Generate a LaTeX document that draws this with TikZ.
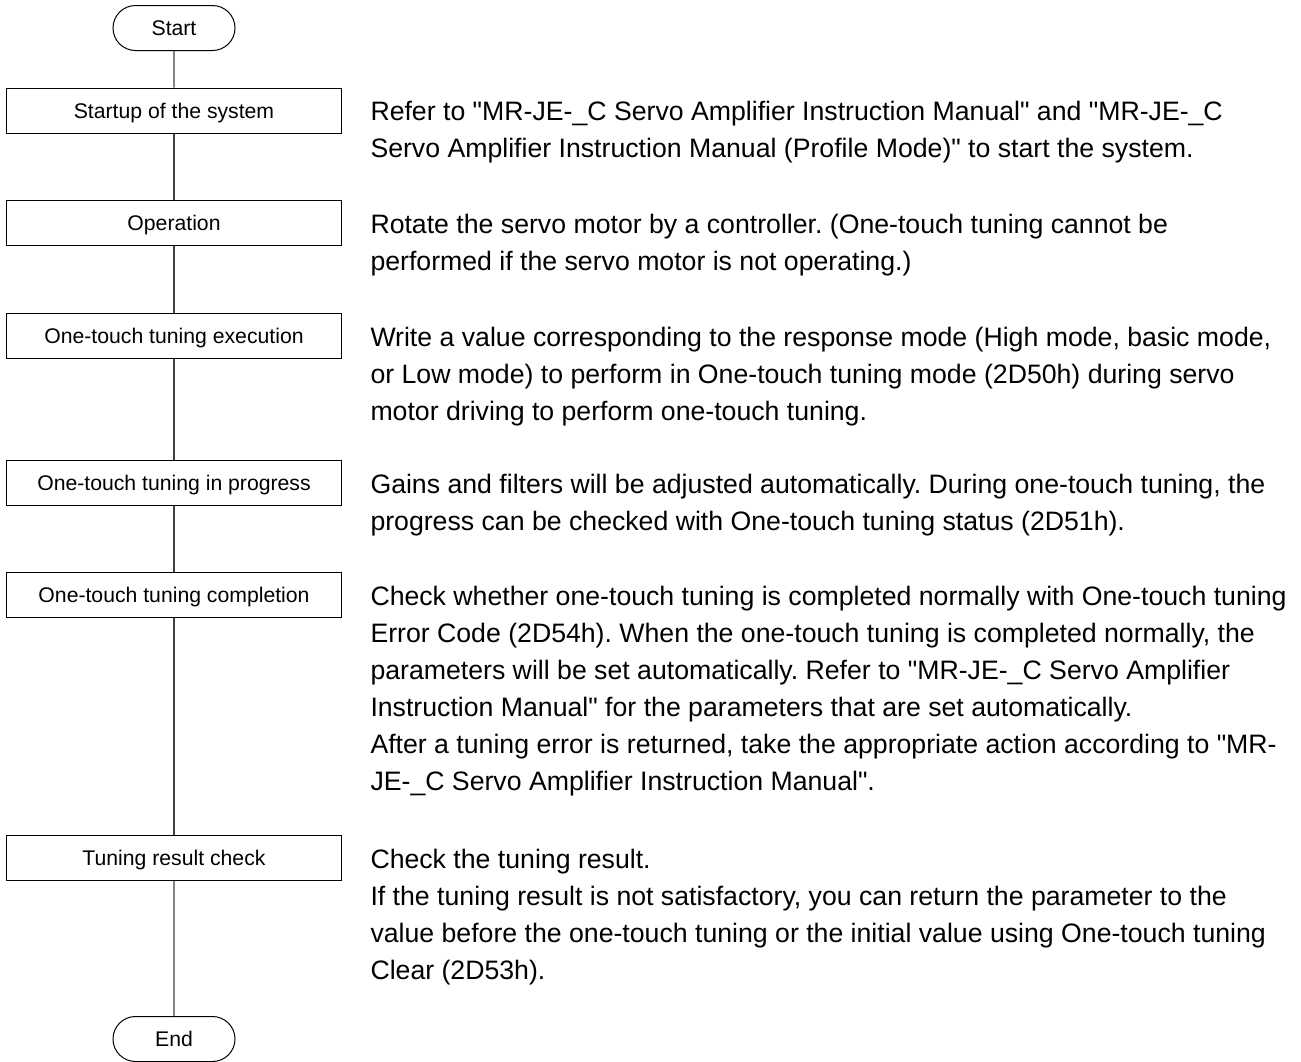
\documentclass[tikz,border=0pt]{standalone}
\usepackage{fontspec}
\setmainfont{Liberation Sans}
\usetikzlibrary{shapes.misc}
\frenchspacing
\newcommand{\q}{\textquotedbl}

\begin{document}
\begin{tikzpicture}[x=0.75pt, y=-0.75pt, line width=0.75pt,
    every node/.style={font=\fontsize{15.9}{19}\selectfont},
    box/.style={draw, minimum width=251.25pt, minimum height=33.75pt, inner sep=0pt,
        text height=11.4pt, text depth=0pt},
    term/.style={draw, rounded rectangle, minimum width=91.5pt, minimum height=33.75pt,
        inner sep=0pt, text height=11.4pt, text depth=0pt},
    note/.style={anchor=north west, align=left, inner sep=0pt,
        font=\fontsize{20}{27.75}\selectfont},
    link/.style={draw=black!75, line width=1pt}]
    \useasboundingbox (0,0) rectangle (1301,1061);

    \node[term] (start) at (174,28) {Start};
    \node[box] (startup) at (174,110.5) {Startup of the system};
    \node[box] (oper) at (174,223) {Operation};
    \node[box] (exec) at (174,336) {One-touch tuning execution};
    \node[box] (prog) at (174,483) {One-touch tuning in progress};
    \node[box] (compl) at (174,595) {One-touch tuning completion};
    \node[box] (check) at (174,858) {Tuning result check};
    \node[term] (end) at (174,1039) {End};

    \node[note] (n1) at (370,94) {\strut Refer to \q MR-JE-\_C Servo Amplifier Instruction Manual\q{} and \q MR-JE-\_C\\
        Servo Amplifier Instruction Manual (Profile Mode)\q{} to start the system.};
    \node[note] (n2) at (370,206.6) {\strut Rotate the servo motor by a controller. (One-touch tuning cannot be\\
        performed if the servo motor is not operating.)};
    \node[note] (n3) at (370,319.6) {\strut Write a value corresponding to the response mode (High mode, basic mode,\\
        or Low mode) to perform in One-touch tuning mode (2D50h) during servo\\
        motor driving to perform one-touch tuning.};
    \node[note] (n4) at (370,466.6) {\strut Gains and filters will be adjusted automatically. During one-touch tuning, the\\
        progress can be checked with One-touch tuning status (2D51h).};
    \node[note] (n5) at (370,578.6) {\strut Check whether one-touch tuning is completed normally with One-touch tuning\\
        Error Code (2D54h). When the one-touch tuning is completed normally, the\\
        parameters will be set automatically. Refer to \q MR-JE-\_C Servo Amplifier\\
        Instruction Manual\q{} for the parameters that are set automatically.\\
        After a tuning error is returned, take the appropriate action according to \q MR-\\
        JE-\_C Servo Amplifier Instruction Manual\q.};
    \node[note] (n6) at (370,841.6) {\strut Check the tuning result.\\
        If the tuning result is not satisfactory, you can return the parameter to the\\
        value before the one-touch tuning or the initial value using One-touch tuning\\
        Clear (2D53h).};

    \draw[link] (start) -- (startup);
    \draw[link] (startup) -- (oper);
    \draw[link] (oper) -- (exec);
    \draw[link] (exec) -- (prog);
    \draw[link] (prog) -- (compl);
    \draw[link] (compl) -- (check);
    \draw[link] (check) -- (end);
\end{tikzpicture}
\end{document}
